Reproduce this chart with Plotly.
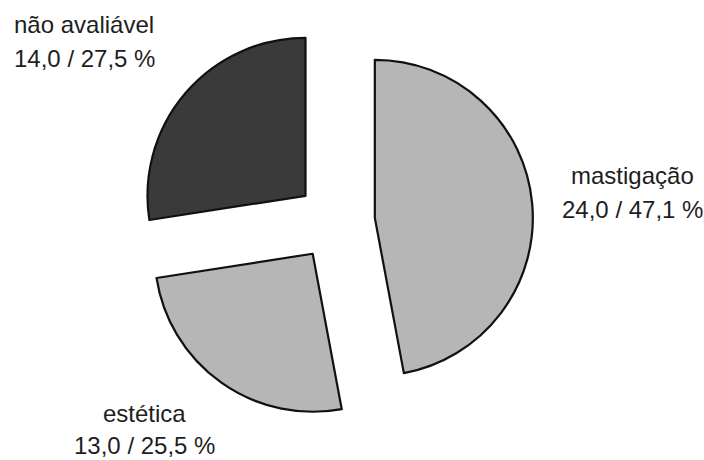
import plotly.graph_objects as go

categories = ["mastigação", "estética", "não avaliável"]
values = [24.0, 13.0, 14.0]
colors = ["#b6b6b6", "#b6b6b6", "#3a3a3a"]

W, H = 704, 460
L, R, T, B = 138, 171, 24, 41
pw, ph = W - L - R, H - T - B

total = sum(values)
pcts = [v / total * 100 for v in values]

def fmt(x):
    return f"{x:.1f}".replace(".", ",")

fig = go.Figure(go.Pie(
    labels=categories,
    values=values,
    sort=False,
    direction="clockwise",
    rotation=0,
    pull=[0.25, 0.25, 0.25],
    marker=dict(colors=colors, line=dict(color="#111111", width=2.2)),
    textinfo="none",
    showlegend=False,
))

# label positions in pixels (centre x, line1 y, line2 y)
label_pos = {
    "não avaliável": (84, 24, 58),
    "mastigação": (632, 175, 209),
    "estética": (144, 413, 446),
}

def px2paper(x, y):
    return (x - L) / pw, 1 - (y - T) / ph

for cat, v, p in zip(categories, values, pcts):
    cx, y1, y2 = label_pos[cat]
    for txt, yy in ((cat, y1), (f"{fmt(v)} / {fmt(p)} %", y2)):
        xp, yp = px2paper(cx, yy)
        fig.add_annotation(
            x=xp, y=yp, xref="paper", yref="paper",
            text=txt, showarrow=False,
            xanchor="center", yanchor="middle",
            font=dict(family="Liberation Sans, Arial, sans-serif", size=24, color="#1e1e1e"),
        )

fig.update_layout(
    width=W, height=H,
    margin=dict(l=L, r=R, t=T, b=B),
    paper_bgcolor="white",
    plot_bgcolor="white",
)

fig.write_html(
    "out.html",
    config={"displayModeBar": False},
    post_script="document.body.style.margin='0px';document.body.style.padding='0px';",
)
